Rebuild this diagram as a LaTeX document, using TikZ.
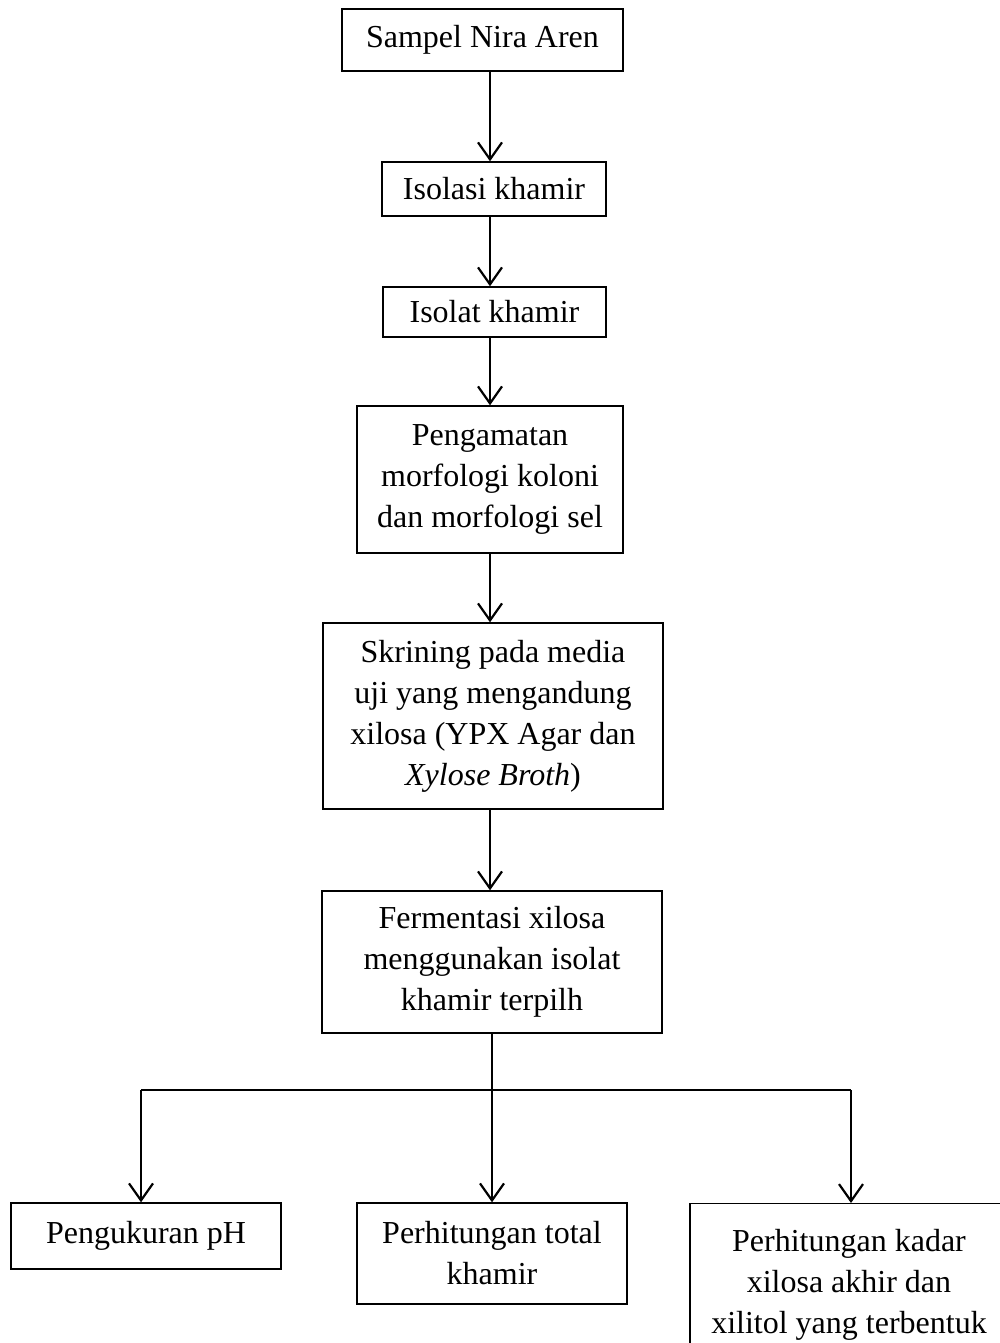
\documentclass[tikz,border=0pt]{standalone}
\usepackage{fontspec}
\setmainfont{Liberation Serif}
\usetikzlibrary{arrows.meta}
\begin{document}
\begin{tikzpicture}[x=1pt,y=-1pt,
  txt/.style={align=center, inner sep=0pt, font=\fontsize{32}{41}\selectfont},
  box/.style={txt, draw=black, line width=1.4pt},
  arr/.style={line width=2.2pt, -{Straight Barb[length=17pt,width=24pt,line width=2.2pt]}},
  ln/.style={line width=2.2pt}]
\useasboundingbox (0,0) rectangle (1000,1343);
\clip (0,0) rectangle (1000,1343);
\node[box, minimum width=281pt, minimum height=62pt] (s1) at (482.5,40) {Sampel Nira Aren};
\node[box, minimum width=224pt, minimum height=54pt] (s2) at (494,189) {Isolasi khamir};
\node[box, minimum width=223pt, minimum height=50pt] (s3) at (494.5,312) {Isolat khamir};
\node[box, minimum width=266pt, minimum height=147pt] (s4) at (490,479.5) {Pengamatan\\morfologi koloni\\dan morfologi sel};
\node[box, minimum width=340pt, minimum height=186pt] (s5) at (493,716) {Skrining pada media\\uji yang mengandung\\xilosa (YPX Agar dan\\\textit{Xylose Broth})};
\node[box, minimum width=340pt, minimum height=142pt] (s6) at (492,962) {Fermentasi xilosa\\menggunakan isolat\\khamir terpilh};
\node[box, minimum width=270pt, minimum height=66pt] (r1) at (146,1236) {Pengukuran pH};
\node[box, minimum width=270pt, minimum height=101pt] (r2) at (492,1253.5) {Perhitungan total\\khamir};
\node[box, minimum width=318pt, minimum height=170pt, anchor=north] (r3) at (849,1203) {};
\node[txt, anchor=north] (r3t) at (849,1229) {Perhitungan kadar\\xilosa akhir dan\\xilitol yang terbentuk};
\coordinate (col) at (490,0);
\draw[arr] (s1.south -| col) -- (s2.north -| col);
\draw[arr] (s2.south -| col) -- (s3.north -| col);
\draw[arr] (s3.south -| col) -- (s4.north -| col);
\draw[arr] (s4.south -| col) -- (s5.north -| col);
\draw[arr] (s5.south -| col) -- (s6.north -| col);
\coordinate (j) at (492,1090);
\coordinate (bl) at (141,1090);
\coordinate (br) at (851,1090);
\draw[ln] (s6.south -| j) -- (j);
\draw[ln] (bl) -- (br);
\draw[arr] (bl) -- (bl |- r1.north);
\draw[arr] (j) -- (j |- r2.north);
\draw[arr] (br) -- (br |- r3.north);
\end{tikzpicture}
\end{document}
